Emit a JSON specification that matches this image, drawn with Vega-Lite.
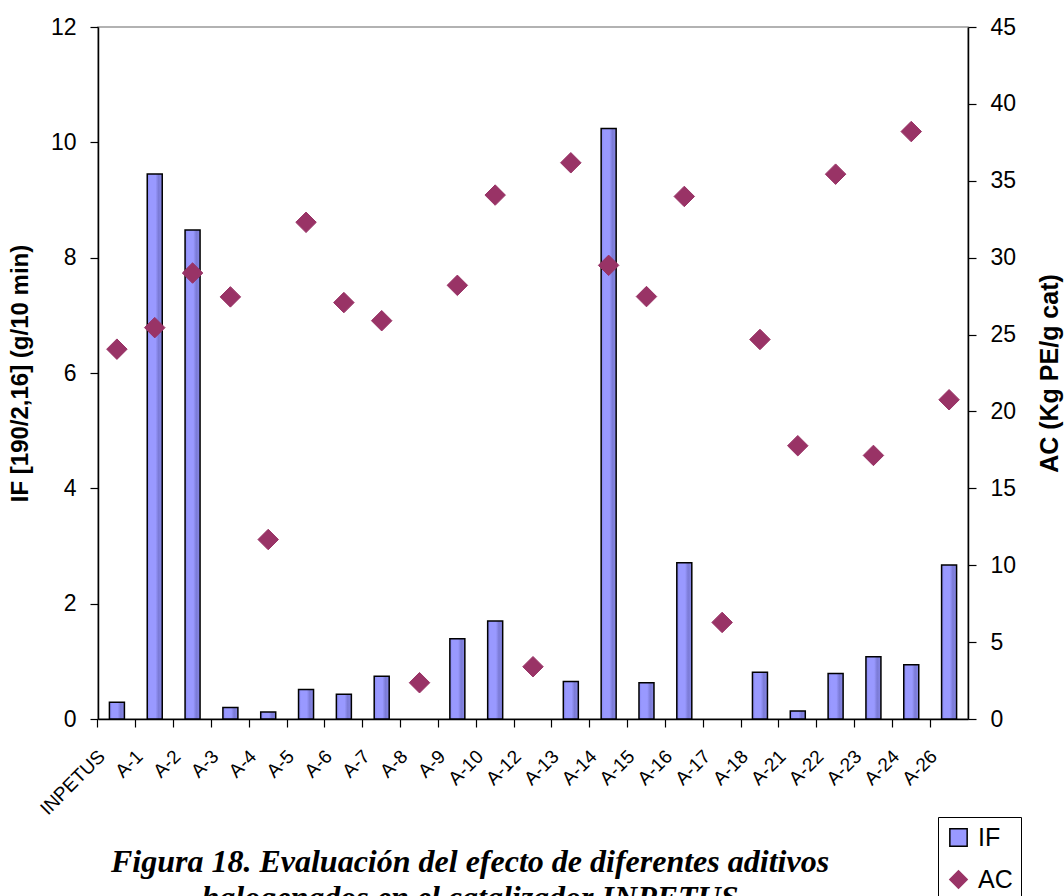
{
  "$schema": "https://vega.github.io/schema/vega-lite/v6.json",
  "width": 870,
  "height": 692,
  "autosize": {"type": "none"},
  "padding": {"left": 98, "top": 27, "right": 96, "bottom": 177},
  "background": "white",
  "config": {
    "view": {"stroke": "#999999", "strokeWidth": 1.5},
    "font": "Liberation Sans"
  },
  "title": {
    "text": ["Figura 18. Evaluación del efecto de diferentes aditivos", "halogenados en el catalizador INPETUS"],
    "orient": "bottom",
    "anchor": "middle",
    "font": "Liberation Serif",
    "fontSize": 32,
    "fontWeight": "bold",
    "fontStyle": "italic",
    "color": "black",
    "lineHeight": 36,
    "offset": 40,
    "dx": -63,
    "dy": -95
  },
  "data": {
    "values": [
      {"cat": "INPETUS", "serie": "IF", "v": 0.29},
      {"cat": "A-1", "serie": "IF", "v": 9.45},
      {"cat": "A-2", "serie": "IF", "v": 8.48},
      {"cat": "A-3", "serie": "IF", "v": 0.2},
      {"cat": "A-4", "serie": "IF", "v": 0.12},
      {"cat": "A-5", "serie": "IF", "v": 0.51},
      {"cat": "A-6", "serie": "IF", "v": 0.43},
      {"cat": "A-7", "serie": "IF", "v": 0.74},
      {"cat": "A-9", "serie": "IF", "v": 1.39},
      {"cat": "A-10", "serie": "IF", "v": 1.7},
      {"cat": "A-13", "serie": "IF", "v": 0.65},
      {"cat": "A-14", "serie": "IF", "v": 10.24},
      {"cat": "A-15", "serie": "IF", "v": 0.63},
      {"cat": "A-16", "serie": "IF", "v": 2.71},
      {"cat": "A-18", "serie": "IF", "v": 0.81},
      {"cat": "A-21", "serie": "IF", "v": 0.14},
      {"cat": "A-22", "serie": "IF", "v": 0.79},
      {"cat": "A-23", "serie": "IF", "v": 1.08},
      {"cat": "A-24", "serie": "IF", "v": 0.94},
      {"cat": "A-26", "serie": "IF", "v": 2.67},
      {"cat": "INPETUS", "serie": "AC", "v": 24.05},
      {"cat": "A-1", "serie": "AC", "v": 25.45},
      {"cat": "A-2", "serie": "AC", "v": 29.0},
      {"cat": "A-3", "serie": "AC", "v": 27.45},
      {"cat": "A-4", "serie": "AC", "v": 11.67},
      {"cat": "A-5", "serie": "AC", "v": 32.3},
      {"cat": "A-6", "serie": "AC", "v": 27.08},
      {"cat": "A-7", "serie": "AC", "v": 25.9},
      {"cat": "A-8", "serie": "AC", "v": 2.36},
      {"cat": "A-9", "serie": "AC", "v": 28.2},
      {"cat": "A-10", "serie": "AC", "v": 34.07},
      {"cat": "A-12", "serie": "AC", "v": 3.4},
      {"cat": "A-13", "serie": "AC", "v": 36.17},
      {"cat": "A-14", "serie": "AC", "v": 29.5},
      {"cat": "A-15", "serie": "AC", "v": 27.47},
      {"cat": "A-16", "serie": "AC", "v": 33.98},
      {"cat": "A-17", "serie": "AC", "v": 6.28},
      {"cat": "A-18", "serie": "AC", "v": 24.68},
      {"cat": "A-21", "serie": "AC", "v": 17.77},
      {"cat": "A-22", "serie": "AC", "v": 35.43},
      {"cat": "A-23", "serie": "AC", "v": 17.14},
      {"cat": "A-24", "serie": "AC", "v": 38.2},
      {"cat": "A-26", "serie": "AC", "v": 20.76}
    ]
  },
  "encoding": {
    "x": {
      "field": "cat",
      "type": "nominal",
      "scale": {
        "domain": ["INPETUS", "A-1", "A-2", "A-3", "A-4", "A-5", "A-6", "A-7", "A-8", "A-9", "A-10", "A-12", "A-13", "A-14", "A-15", "A-16", "A-17", "A-18", "A-21", "A-22", "A-23", "A-24", "A-26"],
        "paddingInner": 0,
        "paddingOuter": 0
      },
      "axis": {
        "title": null,
        "bandPosition": 0,
        "domainColor": "black",
        "domainWidth": 1.5,
        "tickColor": "black",
        "tickWidth": 1.2,
        "tickSize": 8,
        "labelAngle": -45,
        "labelAlign": "right",
        "labelBaseline": "middle",
        "labelFont": "Liberation Sans",
        "labelFontSize": 19,
        "labelColor": "black",
        "labelPadding": 26,
        "labelOffset": -15,
        "labelOverlap": false
      }
    }
  },
  "layer": [
    {
      "transform": [{"filter": "datum.serie === 'IF'"}],
      "mark": {
        "type": "bar",
        "width": 15,
        "stroke": "black",
        "strokeWidth": 1.5,
        "fill": {"gradient": "linear", "x1": 0, "y1": 0, "x2": 1, "y2": 0, "stops": [
          {"offset": 0, "color": "#8585EE"},
          {"offset": 0.18, "color": "#9999FF"},
          {"offset": 0.55, "color": "#9999FF"},
          {"offset": 0.75, "color": "#7B7BD6"},
          {"offset": 1, "color": "#8888E8"}
        ]}
      },
      "encoding": {
        "y": {
          "field": "v",
          "type": "quantitative",
          "scale": {"domain": [0, 12], "nice": false},
          "axis": {
            "orient": "left",
            "title": "IF [190/2,16] (g/10 min)",
            "values": [0, 2, 4, 6, 8, 10, 12],
            "grid": false,
            "domainColor": "black",
            "domainWidth": 1.5,
            "tickColor": "black",
            "tickWidth": 1.2,
            "tickSize": 8,
            "labelFont": "Liberation Sans",
            "labelFontSize": 23,
            "labelColor": "black",
            "labelPadding": 14,
            "titleFont": "Liberation Sans",
            "titleFontSize": 24,
            "titleFontWeight": "bold",
            "titleColor": "black",
            "titleAngle": -90,
            "titleAlign": "center",
            "titleBaseline": "middle",
            "titleX": -78,
            "titleY": 346
          }
        }
      }
    },
    {
      "transform": [{"filter": "datum.serie === 'AC'"}],
      "mark": {"type": "point", "filled": true, "opacity": 1, "size": 420, "strokeWidth": 1},
      "encoding": {
        "y": {
          "field": "v",
          "type": "quantitative",
          "scale": {"domain": [0, 45], "nice": false},
          "axis": {
            "orient": "right",
            "title": "AC (Kg PE/g cat)",
            "values": [0, 5, 10, 15, 20, 25, 30, 35, 40, 45],
            "grid": false,
            "domainColor": "black",
            "domainWidth": 1.5,
            "tickColor": "black",
            "tickWidth": 1.2,
            "tickSize": 8,
            "labelFont": "Liberation Sans",
            "labelFontSize": 23,
            "labelColor": "black",
            "labelPadding": 14,
            "titleFont": "Liberation Sans",
            "titleFontSize": 25,
            "titleFontWeight": "bold",
            "titleColor": "black",
            "titleAngle": -90,
            "titleAlign": "center",
            "titleBaseline": "middle",
            "titleX": 81,
            "titleY": 346
          }
        },
        "color": {
          "field": "serie",
          "type": "nominal",
          "scale": {"domain": ["IF", "AC"], "range": ["#9999FF", "#993366"]},
          "legend": {
            "title": null,
            "orient": "none",
            "legendX": 840,
            "legendY": 790,
            "strokeColor": "black",
            "padding": 8,
            "labelFont": "Liberation Sans",
            "labelFontSize": 25,
            "labelColor": "black",
            "labelOffset": 7,
            "symbolSize": 300,
            "symbolStrokeWidth": 1.5,
            "rowPadding": 16
          }
        },
        "shape": {
          "field": "serie",
          "type": "nominal",
          "scale": {"domain": ["IF", "AC"], "range": ["square", "diamond"]}
        },
        "stroke": {
          "field": "serie",
          "type": "nominal",
          "scale": {"domain": ["IF", "AC"], "range": ["black", "#993366"]}
        }
      }
    }
  ],
  "resolve": {"scale": {"y": "independent"}}
}
